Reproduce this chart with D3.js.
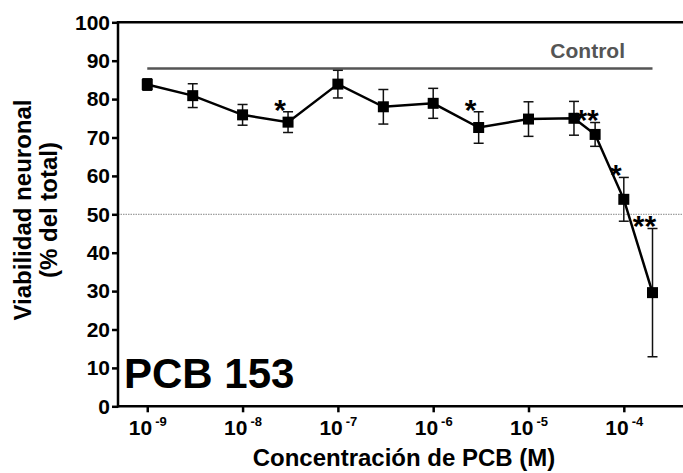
<!DOCTYPE html>
<html>
<head>
<meta charset="utf-8">
<script src="https://cdn.jsdelivr.net/npm/d3@7"></script>
<style>
  body { margin: 0; background: #fff; }
  svg { display: block; font-family: "Liberation Sans", Arial, Helvetica, sans-serif; font-weight: bold; }
</style>
</head>
<body>
<svg id="chart" width="683" height="473"></svg>
<script>
// PCB 153 concentrations tested (M)
const concentration = [1e-9, 3e-9, 1e-8, 3e-8, 1e-7, 3e-7, 1e-6, 3e-6, 1e-5, 3e-5, 5e-5, 1e-4, 2e-4];
// Neuronal viability (% of total) and its standard error
const viability = [83.8, 80.9, 75.9, 74.0, 83.9, 78.0, 78.9, 72.6, 74.8, 75.0, 70.8, 53.9, 29.6];
const sem = [1.5, 3.1, 2.7, 2.7, 3.6, 4.5, 3.9, 4.1, 4.5, 4.4, 3.1, 5.7, 16.7];
// Significance marks versus control
const significance = ["", "", "", "*", "", "", "", "*", "", "", "**", "*", "**"];
// Reference levels
const controlValue = 88;
const halfLevel = 50;
// Axis ticks and range (x in log10 M)
const xTickExponents = [-9, -8, -7, -6, -5, -4];
const yTicks = [0, 10, 20, 30, 40, 50, 60, 70, 80, 90, 100];
const xDomainExp = [-9.307, -3.379];

const svg = d3.select("#chart");
const margin = { left: 118, top: 22.3, bottom: 406.3, right: 683 };

const x = d3.scaleLog()
  .domain(xDomainExp.map(e => Math.pow(10, e)))
  .range([margin.left, margin.right]);
const y = d3.scaleLinear().domain([0, 100]).range([margin.bottom, margin.top]);

const points = concentration.map((c, i) => ({
  c: c, v: viability[i], e: sem[i], sig: significance[i]
}));

// 50 % reference (dotted)
svg.append("line")
  .attr("x1", margin.left).attr("x2", margin.right)
  .attr("y1", y(halfLevel)).attr("y2", y(halfLevel))
  .attr("stroke", "#888").attr("stroke-width", 1)
  .attr("stroke-dasharray", "1.5,1");

// Control level
const cExt = d3.extent(points, d => d.c);
svg.append("line")
  .attr("x1", x(cExt[0])).attr("x2", x(cExt[1]))
  .attr("y1", y(controlValue)).attr("y2", y(controlValue))
  .attr("stroke", "#555").attr("stroke-width", 2.5);
svg.append("text")
  .attr("x", 625).attr("y", 58)
  .attr("text-anchor", "end")
  .attr("font-size", 21)
  .attr("fill", "#555")
  .text("Control");

// Axes
const yAxis = d3.axisLeft(y).tickValues(yTicks).tickSize(6).tickPadding(2).tickFormat(d3.format("d"));
const gy = svg.append("g").attr("transform", `translate(${margin.left},0)`).call(yAxis);
gy.select(".domain").remove();
gy.selectAll(".tick line").attr("stroke", "#000").attr("stroke-width", 2.5);
gy.selectAll(".tick text").attr("font-size", 21).attr("font-family", null).attr("fill", "#000");

const xAxis = d3.axisBottom(x).tickValues(xTickExponents.map(e => Math.pow(10, e))).tickSize(6).tickFormat("");
const gx = svg.append("g").attr("transform", `translate(0,${margin.bottom})`).call(xAxis);
gx.select(".domain").remove();
gx.selectAll(".tick line").attr("stroke", "#000").attr("stroke-width", 2.5);
gx.selectAll(".tick").each(function(d, i) {
  const t = d3.select(this).append("text")
    .attr("y", 29).attr("text-anchor", "middle").attr("fill", "#000");
  t.append("tspan").attr("font-size", 21).text("10");
  t.append("tspan").attr("font-size", 13).attr("dy", -9).attr("dx", 3).text(xTickExponents[i]);
});

// Axis frame lines (left, bottom, top)
svg.append("line").attr("x1", margin.left).attr("x2", margin.left)
  .attr("y1", margin.top - 1.25).attr("y2", margin.bottom + 1.25)
  .attr("stroke", "#000").attr("stroke-width", 2.5);
svg.append("line").attr("x1", margin.left).attr("x2", margin.right)
  .attr("y1", margin.bottom).attr("y2", margin.bottom)
  .attr("stroke", "#000").attr("stroke-width", 2.5);
svg.append("line").attr("x1", margin.left).attr("x2", margin.right)
  .attr("y1", margin.top).attr("y2", margin.top)
  .attr("stroke", "#000").attr("stroke-width", 2.5);

// Error bars
const cap = 5;
const eb = svg.append("g").attr("stroke", "#111").attr("stroke-width", 1.5);
points.forEach(d => {
  const cx = x(d.c);
  eb.append("line").attr("x1", cx).attr("x2", cx).attr("y1", y(d.v + d.e)).attr("y2", y(d.v - d.e));
  eb.append("line").attr("x1", cx - cap).attr("x2", cx + cap).attr("y1", y(d.v + d.e)).attr("y2", y(d.v + d.e));
  eb.append("line").attr("x1", cx - cap).attr("x2", cx + cap).attr("y1", y(d.v - d.e)).attr("y2", y(d.v - d.e));
});

// Connecting line
svg.append("path")
  .datum(points)
  .attr("fill", "none").attr("stroke", "#000").attr("stroke-width", 2.5)
  .attr("d", d3.line().x(d => x(d.c)).y(d => y(d.v)));

// Square markers
const ms = 11;
svg.append("g").selectAll("rect").data(points).join("rect")
  .attr("x", d => x(d.c) - ms / 2).attr("y", d => y(d.v) - ms / 2)
  .attr("width", ms).attr("height", ms).attr("fill", "#000");

// Significance asterisks
const starSize = 30;
svg.append("g").selectAll("text").data(points.filter(d => d.sig)).join("text")
  .attr("x", d => x(d.c) - 8)
  .attr("y", d => y(d.v + d.e) - 9 + 0.56 * starSize)
  .attr("text-anchor", "middle")
  .attr("font-size", starSize)
  .attr("fill", "#000")
  .text(d => d.sig);

// Panel label
svg.append("text").attr("x", 124).attr("y", 388)
  .attr("font-size", 42).attr("fill", "#000").text("PCB 153");

// Axis titles
svg.append("text").attr("x", 404).attr("y", 466)
  .attr("text-anchor", "middle").attr("font-size", 24).attr("fill", "#000")
  .text("Concentración de PCB (M)");
const yl = svg.append("g").attr("font-size", 24).attr("fill", "#000").attr("text-anchor", "middle");
yl.append("text").attr("transform", "translate(30.5,210) rotate(-90)").text("Viabilidad neuronal");
yl.append("text").attr("transform", "translate(56.5,210) rotate(-90)").text("(% del total)");
</script>
</body>
</html>
